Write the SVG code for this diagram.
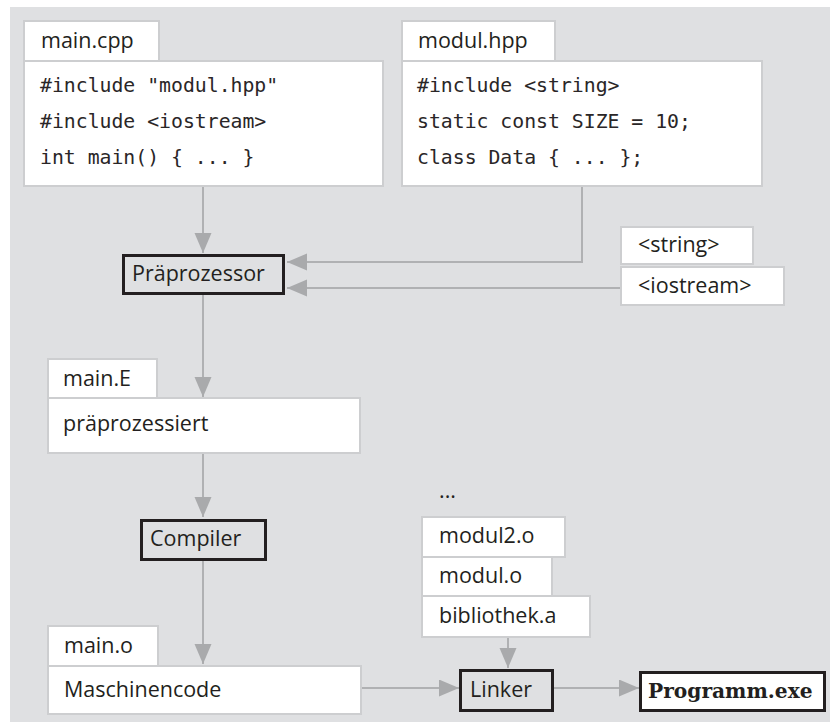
<svg xmlns="http://www.w3.org/2000/svg" width="830" height="724" viewBox="0 0 830 724">
  <style>
    .panel { fill: #dfe0e2; }
    .box { fill: #ffffff; stroke: #cdced0; stroke-width: 2; }
    .tool { fill: #dfe0e2; stroke: #231f20; stroke-width: 3; }
    .out { fill: #ffffff; stroke: #231f20; stroke-width: 3; }
    .label { font-family: "Open Sans", "Noto Sans", sans-serif; font-size: 21.5px; fill: #231f20; }
    .code { font-family: "DejaVu Sans Mono", "Liberation Mono", monospace; font-size: 19.8px; fill: #2a2627; }
    .bold { font-family: "DejaVu Serif", "Liberation Serif", serif; font-weight: bold; font-size: 20.2px; fill: #231f20; }
    .conn { fill: none; stroke: #b0b1b3; stroke-width: 2; }
  </style>
  <defs>
    <marker id="arrow" markerUnits="userSpaceOnUse" markerWidth="20" markerHeight="18" refX="20" refY="8.5" orient="auto">
      <path d="M0,0 L20,8.5 L0,17 z" fill="#a9aaac"/>
    </marker>
  </defs>

  <rect class="panel" x="10" y="7" width="820" height="715"/>

  <g id="connectors">
    <path class="conn" d="M203,186 V253" marker-end="url(#arrow)"/>
    <path class="conn" d="M582,186 V262 H287" marker-end="url(#arrow)"/>
    <path class="conn" d="M621,288 H287" marker-end="url(#arrow)"/>
    <path class="conn" d="M203,295 V397" marker-end="url(#arrow)"/>
    <path class="conn" d="M203,453 V517" marker-end="url(#arrow)"/>
    <path class="conn" d="M203,561 V664" marker-end="url(#arrow)"/>
    <path class="conn" d="M508,637 V668" marker-end="url(#arrow)"/>
    <path class="conn" d="M361,688 H459" marker-end="url(#arrow)"/>
    <path class="conn" d="M554,688 H639" marker-end="url(#arrow)"/>
  </g>

  <g id="main-cpp">
    <rect class="box" x="24" y="21" width="135" height="40"/>
    <text class="label" x="41" y="48">main.cpp</text>
    <rect class="box" x="24" y="61" width="359" height="125"/>
    <text class="code" x="40" y="92">#include "modul.hpp"</text>
    <text class="code" x="40" y="128">#include &lt;iostream&gt;</text>
    <text class="code" x="40" y="164">int main() { ... }</text>
  </g>

  <g id="modul-hpp">
    <rect class="box" x="402" y="21" width="153" height="40"/>
    <text class="label" x="418" y="48">modul.hpp</text>
    <rect class="box" x="402" y="61" width="360" height="125"/>
    <text class="code" x="417" y="92">#include &lt;string&gt;</text>
    <text class="code" x="417" y="128">static const SIZE = 10;</text>
    <text class="code" x="417" y="164">class Data { ... };</text>
  </g>

  <g id="header-string">
    <rect class="box" x="621" y="227" width="132" height="37"/>
    <text class="label" x="638" y="252">&lt;string&gt;</text>
  </g>

  <g id="header-iostream">
    <rect class="box" x="621" y="267" width="163" height="38"/>
    <text class="label" x="638" y="293">&lt;iostream&gt;</text>
  </g>

  <g id="praeprozessor">
    <rect class="tool" x="123.5" y="255.5" width="160" height="38"/>
    <text class="label" x="132" y="281">Präprozessor</text>
  </g>

  <g id="main-e">
    <rect class="box" x="48" y="359" width="109" height="39"/>
    <text class="label" x="63" y="386">main.E</text>
    <rect class="box" x="48" y="398" width="312" height="55"/>
    <text class="label" x="63" y="431">präprozessiert</text>
  </g>

  <g id="compiler">
    <rect class="tool" x="141.5" y="520.5" width="124" height="39"/>
    <text class="label" x="150" y="546">Compiler</text>
  </g>

  <g id="main-o">
    <rect class="box" x="48" y="626" width="110" height="40"/>
    <text class="label" x="64" y="653">main.o</text>
    <rect class="box" x="48" y="666" width="313" height="48"/>
    <text class="label" x="64" y="697">Maschinencode</text>
  </g>

  <g id="objects">
    <text class="label" x="439" y="498">...</text>
    <rect class="box" x="422" y="517" width="143" height="40"/>
    <text class="label" x="439" y="543">modul2.o</text>
    <rect class="box" x="422" y="557" width="130" height="39"/>
    <text class="label" x="439" y="583">modul.o</text>
    <rect class="box" x="422" y="596" width="168" height="41"/>
    <text class="label" x="439" y="623">bibliothek.a</text>
  </g>

  <g id="linker">
    <rect class="tool" x="460.5" y="670.5" width="92" height="40"/>
    <text class="label" x="470" y="697">Linker</text>
  </g>

  <g id="programm">
    <rect class="out" x="640.5" y="672.5" width="184" height="38"/>
    <text class="bold" x="648" y="698">Programm.exe</text>
  </g>
</svg>
